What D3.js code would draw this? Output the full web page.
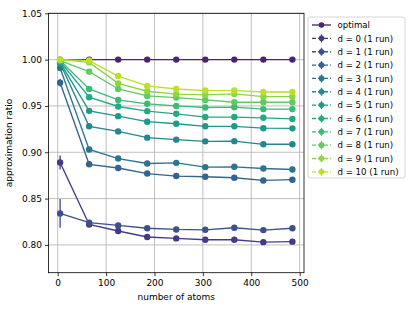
<!DOCTYPE html>
<meta charset="utf-8">
<style>
  body { margin: 0; background: #fff; }
  text { font-family: "DejaVu Sans", sans-serif; fill: #000; }
</style>
<body>
<div id="chart"></div>
<script src="https://d3js.org/d3.v7.min.js"></script>
<script>
const atoms = [5, 65, 125, 185, 245, 305, 365, 425, 485];

const optimal = [1, 1, 1, 1, 1, 1, 1, 1, 1];
const d0 = [0.889, 0.822, 0.815, 0.8085, 0.807, 0.8056, 0.8056, 0.803, 0.8035];
const d1 = [0.834, 0.824, 0.821, 0.818, 0.8167, 0.8163, 0.8185, 0.816, 0.818];
const d2 = [0.975, 0.887, 0.883, 0.877, 0.8743, 0.8736, 0.8725, 0.8696, 0.8704];
const d3s = [0.991, 0.903, 0.8932, 0.8879, 0.8886, 0.884, 0.8843, 0.8825, 0.8814];
const d4 = [0.996, 0.928, 0.9225, 0.9158, 0.9136, 0.9118, 0.912, 0.9086, 0.9086];
const d5 = [0.997, 0.9447, 0.939, 0.933, 0.9308, 0.928, 0.928, 0.926, 0.9258];
const d6 = [0.998, 0.9594, 0.9494, 0.9444, 0.9415, 0.938, 0.938, 0.9372, 0.936];
const d7 = [0.999, 0.9684, 0.9565, 0.9523, 0.950, 0.9483, 0.9487, 0.9466, 0.9466];
const d8 = [0.999, 0.987, 0.9683, 0.9608, 0.959, 0.9565, 0.954, 0.954, 0.954];
const d9 = [1.0, 0.997, 0.9744, 0.9659, 0.9627, 0.962, 0.963, 0.960, 0.960];
const d10 = [1.0, 0.999, 0.9823, 0.9716, 0.9683, 0.9666, 0.9666, 0.9651, 0.965];

// error bars (only the first point shows a visible spread)
const errFirst = [0, 0.0075, 0.0155, 0.004, 0.001, 0, 0, 0, 0, 0, 0, 0];

const names = ["optimal", "d = 0 (1 run)", "d = 1 (1 run)", "d = 2 (1 run)", "d = 3 (1 run)",
  "d = 4 (1 run)", "d = 5 (1 run)", "d = 6 (1 run)", "d = 7 (1 run)", "d = 8 (1 run)",
  "d = 9 (1 run)", "d = 10 (1 run)"];
const series = [optimal, d0, d1, d2, d3s, d4, d5, d6, d7, d8, d9, d10];

const xTicks = [0, 100, 200, 300, 400, 500];
const yTicks = [0.80, 0.85, 0.90, 0.95, 1.00, 1.05];

const width = 415, height = 311;
const mLeft = 48.5, mRight = 304, mTop = 13.3, mBottom = 272.7;

const color = i => d3.interpolateViridis(0.1 + 0.8 * i / (series.length - 1));

const svg = d3.select("#chart").append("svg")
    .attr("width", width)
    .attr("height", height);

const x = d3.scaleLinear().domain([-19, 509]).range([mLeft, mRight]);
const y = d3.scaleLinear().domain([0.77, 1.05]).range([mBottom, mTop]);

// grid
const grid = svg.append("g");
grid.selectAll(".gx").data(xTicks).enter().append("line")
    .attr("x1", d => x(d)).attr("x2", d => x(d))
    .attr("y1", mTop).attr("y2", mBottom)
    .style("stroke", "#b0b0b0").style("stroke-width", 0.8);
grid.selectAll(".gy").data(yTicks).enter().append("line")
    .attr("x1", mLeft).attr("x2", mRight)
    .attr("y1", d => y(d)).attr("y2", d => y(d))
    .style("stroke", "#b0b0b0").style("stroke-width", 0.8);

// axes
const xAxis = svg.append("g")
    .attr("transform", "translate(0," + mBottom + ")")
    .call(d3.axisBottom(x).tickValues(xTicks).tickSize(3.5).tickPadding(3).tickFormat(d3.format("d")));
const yAxis = svg.append("g")
    .attr("transform", "translate(" + mLeft + ",0)")
    .call(d3.axisLeft(y).tickValues(yTicks).tickSize(3.5).tickPadding(3).tickFormat(d3.format(".2f")));
[xAxis, yAxis].forEach(a => {
  a.select(".domain").remove();
  a.selectAll("text").style("font-size", "9px").style("font-family", "DejaVu Sans, sans-serif");
  a.selectAll("line").style("stroke", "#000").style("stroke-width", 0.8);
});

// series
const line = d3.line().x((d, i) => x(atoms[i])).y(d => y(d));
const plot = svg.append("g");
series.forEach((s, k) => {
  const g = plot.append("g");
  g.append("path")
      .attr("d", line(s))
      .style("fill", "none")
      .style("stroke", color(k))
      .style("stroke-width", 1.35);
  if (errFirst[k] > 0) {
    g.append("line")
        .attr("x1", x(atoms[0])).attr("x2", x(atoms[0]))
        .attr("y1", y(s[0] - errFirst[k])).attr("y2", y(s[0] + errFirst[k]))
        .style("stroke", color(k)).style("stroke-width", 1.35);
  }
  g.selectAll("circle").data(s).enter().append("circle")
      .attr("cx", (d, i) => x(atoms[i]))
      .attr("cy", d => y(d))
      .attr("r", 3.2)
      .style("fill", color(k));
});

// frame
svg.append("rect")
    .attr("x", mLeft).attr("y", mTop)
    .attr("width", mRight - mLeft).attr("height", mBottom - mTop)
    .style("fill", "none").style("stroke", "#000").style("stroke-width", 0.8);

// axis labels
svg.append("text")
    .attr("x", (mLeft + mRight) / 2).attr("y", 300)
    .attr("text-anchor", "middle")
    .style("font-size", "9px")
    .text("number of atoms");
svg.append("text")
    .attr("transform", "translate(12," + (mTop + mBottom) / 2 + ") rotate(-90)")
    .attr("text-anchor", "middle")
    .style("font-size", "9px")
    .text("approximation ratio");

// legend
const legend = svg.append("g").attr("transform", "translate(308,17)");
legend.append("rect")
    .attr("width", 97).attr("height", 161).attr("rx", 2)
    .style("fill", "#fff").style("fill-opacity", 0.8)
    .style("stroke", "#cccccc").style("stroke-width", 0.8);
names.forEach((n, k) => {
  const ry = 8 + k * 13.35;
  const item = legend.append("g").attr("transform", "translate(0," + ry + ")");
  item.append("line")
      .attr("x1", 4).attr("x2", 23).attr("y1", 0).attr("y2", 0)
      .style("stroke", color(k)).style("stroke-width", 1.35)
      .style("stroke-dasharray", k === 0 ? null : "4,2");
  if (k > 0) {
    item.append("line")
        .attr("x1", 13.5).attr("x2", 13.5).attr("y1", -4).attr("y2", 4)
        .style("stroke", color(k)).style("stroke-width", 1.35);
  }
  item.append("circle")
      .attr("cx", 13.5).attr("cy", 0).attr("r", 2.8)
      .style("fill", color(k));
  item.append("text")
      .attr("x", 29.5).attr("y", 3.2)
      .style("font-size", "8.6px")
      .text(n);
});
</script>
</body>
